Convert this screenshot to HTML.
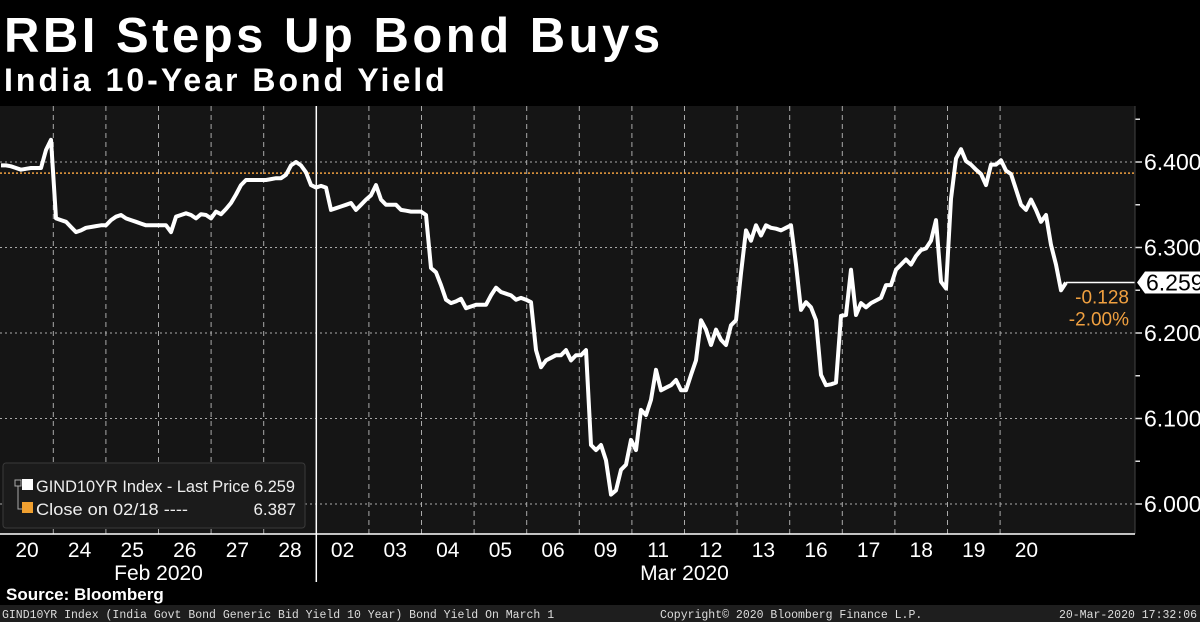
<!DOCTYPE html>
<html><head><meta charset="utf-8"><style>
html,body{margin:0;padding:0;background:#000;width:1200px;height:622px;overflow:hidden;font-family:"Liberation Sans",sans-serif;color:#fff}
</style></head><body>
<svg width="1200" height="622" xmlns="http://www.w3.org/2000/svg">
<rect x="0" y="0" width="1200" height="622" fill="#000"/>
<text x="4" y="52" font-size="49" font-weight="bold" fill="#fff" letter-spacing="3.5" font-family="Liberation Sans, sans-serif">RBI Steps Up Bond Buys</text>
<text x="4" y="91" font-size="32" font-weight="bold" fill="#fff" letter-spacing="3" font-family="Liberation Sans, sans-serif">India 10-Year Bond Yield</text>
<rect x="0" y="106" width="1135" height="428" fill="#151515"/>
<g id="grid"></g>
<g id="series"></g>
<g id="yaxis"></g>
<g id="xaxis"></g>
<g>
<rect x="3" y="463" width="302" height="65" rx="3" fill="#1b1b1b" stroke="#3a3a3a"/>
<rect x="15" y="480" width="6" height="6" fill="none" stroke="#aaa"/>
<path d="M18 486 V509 H22" stroke="#aaa" fill="none"/>
<rect x="22" y="479" width="11" height="11" fill="#fff"/>
<text x="36" y="492" font-size="17" fill="#eee" textLength="259" lengthAdjust="spacingAndGlyphs">GIND10YR Index - Last Price 6.259</text>
<rect x="22" y="502" width="11" height="11" fill="#f0a030"/>
<text x="36" y="515" font-size="17" fill="#eee" textLength="152" lengthAdjust="spacingAndGlyphs">Close on 02/18 ----</text>
<text x="296" y="515" font-size="17" fill="#eee" text-anchor="end">6.387</text>
</g>
<text x="6" y="600" font-size="17" font-weight="bold" fill="#fff">Source: Bloomberg</text>
<rect x="0" y="605" width="1200" height="17" fill="#1e1e1e"/>
<text x="2" y="618" font-size="11.5" fill="#ddd" font-family="Liberation Mono, monospace">GIND10YR Index (India Govt Bond Generic Bid Yield 10 Year) Bond Yield On March 1</text>
<text x="660" y="618" font-size="11.5" fill="#ddd" font-family="Liberation Mono, monospace">Copyright© 2020 Bloomberg Finance L.P.</text>
<text x="1197" y="618" font-size="11.5" fill="#ddd" text-anchor="end" font-family="Liberation Mono, monospace">20-Mar-2020 17:32:06</text>
</svg>
<script>
const dayLabels=['20','24','25','26','27','28','02','03','04','05','06','09','11','12','13','16','17','18','19','20'];
const monthLabels=['Feb 2020','Mar 2020'];
const yTicks=[6.0,6.1,6.2,6.3,6.4];
const closeValue=6.387;
const lastValue=6.259;
const changeLabels=['-0.128','-2.00%'];
const yields=[6.396,6.396,6.395,6.393,6.391,6.392,6.393,6.393,6.393,6.414,6.426,6.334,6.332,6.330,6.324,6.318,6.320,6.323,6.324,6.325,6.326,6.326,6.332,6.336,6.338,6.334,6.332,6.330,6.328,6.326,6.326,6.326,6.326,6.326,6.318,6.336,6.338,6.340,6.338,6.334,6.339,6.338,6.334,6.342,6.339,6.345,6.352,6.362,6.373,6.379,6.379,6.379,6.379,6.379,6.380,6.381,6.381,6.385,6.396,6.400,6.396,6.388,6.373,6.370,6.372,6.370,6.344,6.346,6.348,6.350,6.352,6.344,6.350,6.356,6.361,6.373,6.356,6.350,6.350,6.350,6.344,6.343,6.342,6.342,6.342,6.338,6.276,6.271,6.256,6.239,6.235,6.237,6.240,6.229,6.231,6.233,6.233,6.233,6.244,6.253,6.248,6.246,6.244,6.239,6.241,6.239,6.236,6.180,6.160,6.168,6.171,6.174,6.174,6.180,6.168,6.174,6.174,6.180,6.069,6.063,6.069,6.051,6.011,6.016,6.040,6.046,6.075,6.063,6.110,6.104,6.122,6.157,6.133,6.136,6.139,6.145,6.133,6.133,6.151,6.168,6.215,6.204,6.186,6.204,6.192,6.186,6.209,6.215,6.270,6.320,6.308,6.326,6.314,6.326,6.323,6.322,6.320,6.323,6.326,6.280,6.227,6.236,6.230,6.215,6.151,6.139,6.140,6.142,6.220,6.221,6.274,6.221,6.235,6.230,6.235,6.238,6.241,6.256,6.256,6.274,6.280,6.286,6.280,6.290,6.297,6.299,6.308,6.332,6.260,6.252,6.357,6.404,6.415,6.401,6.397,6.391,6.386,6.373,6.397,6.397,6.402,6.390,6.386,6.368,6.350,6.344,6.356,6.344,6.330,6.338,6.303,6.280,6.250,6.259];
const NS='http://www.w3.org/2000/svg';
const plotL=0,plotR=1135,plotT=106,plotB=534;
const dayW=52.6;
function xScale(i){return 1+i*5.0;}
function yScale(v){return 504-(v-6.0)*855;}
function dayX(k){return 27+k*dayW;}
function mk(tag,attrs,parent){const e=document.createElementNS(NS,tag);for(const k in attrs)e.setAttribute(k,attrs[k]);parent.appendChild(e);return e;}
const grid=document.getElementById('grid'),series=document.getElementById('series'),ya=document.getElementById('yaxis'),xa=document.getElementById('xaxis');
yTicks.forEach(v=>{
  const l=mk('line',{x1:plotL,x2:plotR,y1:yScale(v),y2:yScale(v),stroke:'#aaa','stroke-width':1,'stroke-dasharray':'2,3'},grid);
  
  
  const t=mk('line',{x1:plotR,x2:plotR+7,y1:yScale(v),y2:yScale(v),stroke:'#ddd','stroke-width':1.5},ya);
  
  
  const tx=mk('text',{x:plotR+9,y:yScale(v)+8,'font-size':23,fill:'#fff'},ya);
  tx.textContent=v.toFixed(3);
  
  
});
for(let v=6.05;v<6.5;v+=0.1){
  const t=mk('line',{x1:plotR,x2:plotR+5,y1:yScale(v),y2:yScale(v),stroke:'#ddd','stroke-width':1.5},ya);
  
  
}
mk('line',{x1:plotR,x2:plotR,y1:plotT,y2:plotB,stroke:'#444'},ya);
dayLabels.forEach((d,k)=>{
  const gx=dayX(k)+dayW/2;
  if(k<dayLabels.length-1 && k!==5){
    const g=mk('line',{x1:gx,x2:gx,y1:plotT,y2:plotB,stroke:'#aaa','stroke-width':1,'stroke-dasharray':'5,4'},grid);
    
    
  }
  const t=mk('text',{x:dayX(k),y:557,'font-size':21,fill:'#fff','text-anchor':'middle'},xa);
  t.textContent=d;
  
  
});
const sepX=dayX(5)+dayW/2;
mk('line',{x1:sepX,x2:sepX,y1:plotT,y2:582,stroke:'#fff','stroke-width':1.5},xa);
mk('line',{x1:0,x2:plotR,y1:plotB,y2:plotB,stroke:'#fff','stroke-width':1.5},xa);
[[dayX(2.5)],[dayX(12.5)]].forEach((p,k)=>{
  const t=mk('text',{x:p[0],y:580,'font-size':21,fill:'#fff','text-anchor':'middle'},xa);
  t.textContent=monthLabels[k];
  
  
});
const cl=mk('line',{x1:plotL,x2:plotR,y1:yScale(closeValue),y2:yScale(closeValue),stroke:'#f0a040','stroke-width':1.5,'stroke-dasharray':'2,2'},series);


let d='';
yields.forEach((v,i)=>{d+=(i?'L':'M')+xScale(i).toFixed(1)+' '+yScale(v).toFixed(1);});
const p=mk('path',{d:d,fill:'none',stroke:'#fff','stroke-width':4,'stroke-linejoin':'round'},series);


const ly=yScale(lastValue), lx=xScale(yields.length-1);
mk('line',{x1:lx,x2:plotR,y1:ly,y2:ly,stroke:'#fff','stroke-width':1.5},series);
const lb=mk('path',{d:`M${plotR+2} ${ly} L${plotR+10} ${ly-11} H1200 V${ly+11} H${plotR+10} Z`,fill:'#fff'},ya);


const lt=mk('text',{x:plotR+11,y:ly+8,'font-size':23,fill:'#000'},ya);
lt.textContent=lastValue.toFixed(3);


changeLabels.forEach((c,k)=>{
  const t=mk('text',{x:1129,y:ly+21+k*22,'font-size':19,fill:'#f0a040','text-anchor':'end'},series);
  t.textContent=c;
  
  
});
</script>
</body></html>
